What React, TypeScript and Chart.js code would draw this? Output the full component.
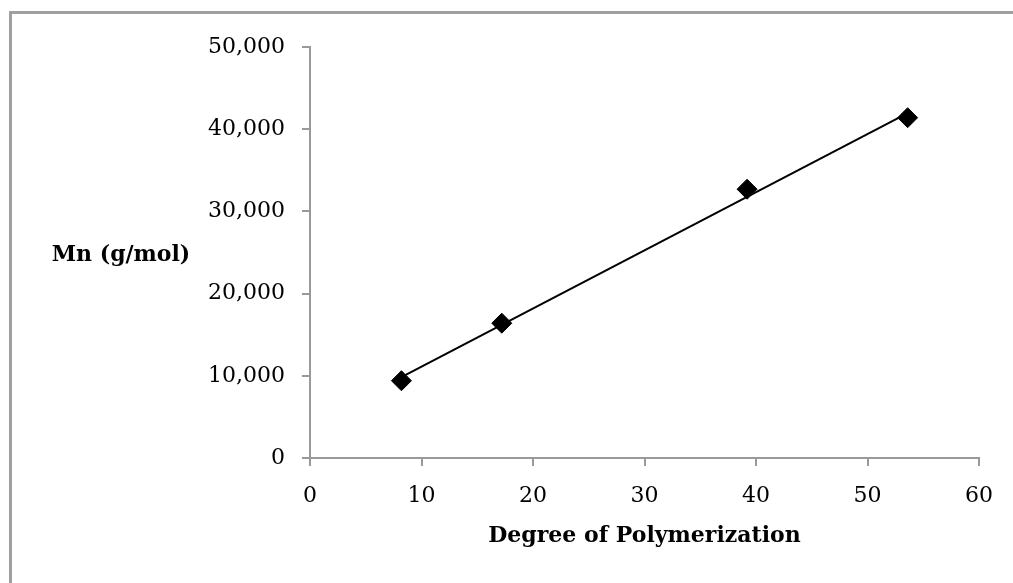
import React, { useEffect, useRef } from "react";
import { Chart, registerables } from "chart.js";

Chart.register(...registerables);

const dpValues = [8.2, 17.2, 39.2, 53.6];
const mnValues = [9400, 16400, 32700, 41400];
const trendX = [8.2, 53.6];
const trendY = [9850, 41950];
const xTickStep = 10;
const yTickStep = 10000;
const xTitle = "Degree of Polymerization";
const yTitle = "Mn (g/mol)";

const FONT = "'DejaVu Serif', serif";

const yTitlePlugin = {
  id: "yTitleHorizontal",
  afterDraw(chart: any) {
    const { ctx, chartArea } = chart;
    ctx.save();
    ctx.font = `bold 22px ${FONT}`;
    ctx.fillStyle = "#000";
    ctx.textAlign = "center";
    ctx.textBaseline = "middle";
    ctx.fillText(yTitle, 121, (chartArea.top + chartArea.bottom) / 2 + 3);
    ctx.restore();
  },
};

export default function App() {
  const ref = useRef<HTMLCanvasElement | null>(null);
  useEffect(() => {
    if (!ref.current) return;
    const chart = new Chart(ref.current, {
      type: "scatter",
      data: {
        datasets: [
          {
            label: "trend",
            data: trendX.map((x, i) => ({ x, y: trendY[i] })),
            showLine: true,
            borderColor: "#000",
            borderWidth: 2,
            pointRadius: 0,
            fill: false,
          },
          {
            label: "Mn",
            data: dpValues.map((x, i) => ({ x, y: mnValues[i] })),
            pointStyle: "rectRot",
            pointRadius: 10,
            backgroundColor: "#000",
            borderColor: "#000",
            borderWidth: 1,
            showLine: false,
          },
        ],
      },
      options: {
        responsive: false,
        animation: false,
        layout: { padding: { top: 47, right: 34, left: 0, bottom: 0 } },
        plugins: { legend: { display: false }, tooltip: { enabled: false } },
        scales: {
          x: {
            type: "linear",
            min: 0,
            max: 60,
            ticks: { stepSize: xTickStep, color: "#000", padding: 17, font: { family: FONT, size: 22 } },
            grid: { drawOnChartArea: false, drawTicks: true, tickLength: 8, color: "#999", lineWidth: 2 },
            border: { color: "#999", width: 2 },
            title: {
              display: true,
              text: xTitle,
              color: "#000",
              font: { family: FONT, size: 22, weight: "bold" },
              padding: { top: 0, bottom: 34 },
            },
            afterFit: (s: any) => {
              s.height = 125;
            },
          },
          y: {
            type: "linear",
            min: 0,
            max: 50000,
            ticks: {
              stepSize: yTickStep,
              color: "#000",
              padding: 17,
              font: { family: FONT, size: 22 },
              callback: (v: any) => Number(v).toLocaleString("en-US"),
            },
            grid: { drawOnChartArea: false, drawTicks: true, tickLength: 8, color: "#999", lineWidth: 2 },
            border: { color: "#999", width: 2 },
            afterFit: (s: any) => {
              s.width = 310;
            },
          },
        },
      } as any,
      plugins: [yTitlePlugin],
    });
    return () => chart.destroy();
  }, []);

  return (
    <div style={{ position: "fixed", left: 0, top: 0, width: 1013, height: 583, background: "#fff", overflow: "hidden" }}>
      <div
        style={{
          position: "absolute",
          left: 9,
          top: 11,
          width: 1100,
          height: 700,
          borderTop: "3px solid #a0a0a0",
          borderLeft: "3px solid #a0a0a0",
        }}
      />
      <canvas ref={ref} width={1013} height={583} style={{ position: "absolute", left: 0, top: 0 }} />
    </div>
  );
}
